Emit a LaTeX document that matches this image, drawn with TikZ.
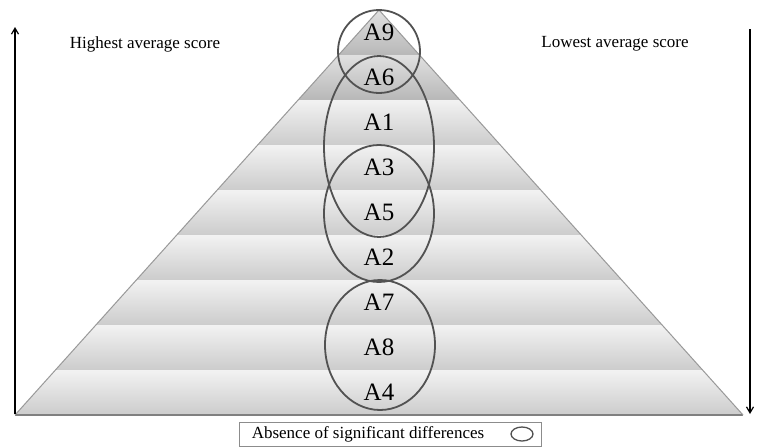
\documentclass[tikz,border=0pt]{standalone}
\usepackage{fontspec}
\setmainfont{Liberation Serif}
\usetikzlibrary{shapes.geometric,arrows.meta}
\begin{document}
\begin{tikzpicture}[x=1pt,y=-1pt,
  grp/.style={draw=black!68, line width=1.8pt, ellipse, inner sep=0pt},
  lbl/.style={font=\fontsize{25}{25}\selectfont, inner sep=0pt},
  note/.style={font=\fontsize{17}{17}\selectfont, inner sep=0pt},
  band/.style={top color=black!5, bottom color=black!20},
  topband/.style={top color=black!12, bottom color=black!28},
  sep/.style={draw=black!45, line width=1pt},
  axis/.style={line width=1.2pt, -{Straight Barb[length=6pt,width=7pt,line width=1.2pt]}}]
\useasboundingbox (0,0) rectangle (757,447);
\fill[white] (0,0) rectangle (757,447);
% pyramid bands
\foreach \k in {0,...,8}{
  \pgfmathsetmacro\yt{10+45*\k}
  \pgfmathsetmacro\yb{55+45*\k}
  \pgfmathsetmacro\wt{40.444*\k}
  \pgfmathsetmacro\wb{40.444*(\k+1)}
  \ifnum\k<2
    \shade[topband] (379-\wt,\yt) -- (379+\wt,\yt) -- (379+\wb,\yb) -- (379-\wb,\yb) -- cycle;
  \else
    \shade[band] (379-\wt,\yt) -- (379+\wt,\yt) -- (379+\wb,\yb) -- (379-\wb,\yb) -- cycle;
  \fi
  \draw[sep] (379-\wb,\yb) -- (379+\wb,\yb);
}
\draw[black!40, line width=1pt] (15,415) -- (379,10) -- (743,415);
\draw[black!50, line width=2pt] (16,415) -- (742,415);
% labels
\node[lbl] (a9) at (379,32.5) {A9};
\node[lbl] (a6) at (379,77.5) {A6};
\node[lbl] (a1) at (379,122.5) {A1};
\node[lbl] (a3) at (379,167.5) {A3};
\node[lbl] (a5) at (379,212.5) {A5};
\node[lbl] (a2) at (379,257.5) {A2};
\node[lbl] (a7) at (379,302.5) {A7};
\node[lbl] (a8) at (379,347.5) {A8};
\node[lbl] (a4) at (379,392.5) {A4};
% groups
\node[grp, minimum width=82pt, minimum height=83pt] (g1) at (379,51.5) {};
\node[grp, minimum width=110pt, minimum height=181pt] (g2) at (379,146.5) {};
\node[grp, minimum width=110pt, minimum height=137pt] (g3) at (379,213.5) {};
\node[grp, minimum width=110pt, minimum height=130pt] (g5) at (380,345) {};
% axis arrows
\coordinate (lb) at (15,414);
\coordinate (lt) at (15,27);
\coordinate (rt) at (750,29);
\coordinate (rb) at (750,414);
\draw[axis] (lb) -- (lt);
\draw[axis] (rt) -- (rb);
\node[note] (hi) at (145,44) {Highest average score};
\node[note] (lo) at (615,44) {Lowest average score};
% legend
\node[draw=black!45, line width=0.8pt, fill=white, minimum width=302pt, minimum height=24pt, inner sep=0pt] (legend) at (390,434) {};
\node[note] (legtext) at (368,434) {Absence of significant differences};
\node[grp, line width=1.3pt, minimum width=22pt, minimum height=14pt] (legsym) at (522,434) {};
\end{tikzpicture}
\end{document}
